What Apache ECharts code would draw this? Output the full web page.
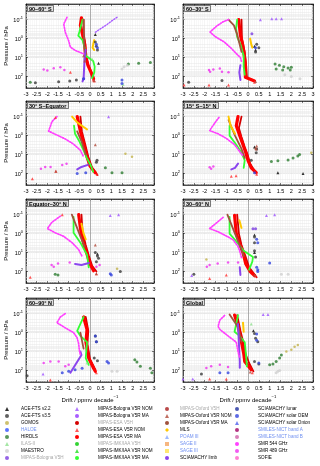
<!DOCTYPE html>
<html>
<head>
<meta charset="UTF-8">
<script src="https://cdn.jsdelivr.net/npm/echarts@6/dist/echarts.min.js"></script>
<style>
html, body { margin: 0; padding: 0; background: #fff; }
#main { width: 320px; height: 466px; }
</style>
</head>
<body>
<div id="main"></div>
<script>
var F = 'Liberation Sans, Arial, sans-serif';
var panels = ['90–60° S', '60–30° S', '30° S–Equator', '15° S–15° N', 'Equator–30° N', '30–60° N', '60–90° N', 'Global'];
var pMin = 0.015, pMax = 400;

// every list: one entry per panel, points are [drift (ppmv/decade), pressure (hPa)]
var smr544 = [
  [[-1.08,0.075],[-1.23,0.17],[-1.16,0.46],[-1.0,1.3],[-0.92,2.8],[-0.69,4.2],[-0.3,6.3]],
  [[-0.9,0.1],[-1.15,0.13],[-1.45,0.22],[-1.75,0.45],[-1.5,0.8],[-1.1,1.5],[-0.8,3],[-0.55,6],[-0.35,10],[-0.3,16]],
  [[-1.55,0.1],[-1.78,0.18],[-1.94,0.58],[-1.55,0.93],[-1.16,1.5],[-0.77,2.8],[-0.45,6],[-0.3,13]],
  [[-1.34,0.11],[-1.54,0.22],[-1.77,0.54],[-1.38,0.8],[-1.0,1.4],[-0.62,3],[-0.38,7],[-0.23,12]],
  [[-1.39,0.12],[-1.78,0.25],[-2.0,0.54],[-1.63,0.9],[-1.23,1.4],[-0.84,3],[-0.53,7],[-0.38,15]],
  [[-1.15,0.14],[-1.77,0.54],[-1.38,0.8],[-1.0,1.33],[-0.69,2.1],[-0.46,4.7],[-0.38,8.4],[-0.3,18]],
  [[-1.16,0.1],[-1.39,0.15],[-1.55,0.3],[-1.16,0.56],[-0.77,1],[-0.61,1.8],[-0.53,3.9],[-0.5,8.5],[-0.45,15]],
  [[-1.08,0.125],[-1.3,0.22],[-1.38,0.47],[-1.3,0.68],[-0.92,1.5],[-0.54,3.2],[-0.46,10],[-0.38,22]]
];
var smr489 = [
  [[-2.17,43],[-2.0,48],[-1.7,36],[-1.39,32],[-1.2,45]],
  [[-1.8,45],[-1.6,42],[-1.3,38],[-1.75,55],[-1.2,55],[-0.9,60]],
  [[-1.1,30],[-1.3,35],[-1.85,45],[-2.1,45],[-2.3,55]],
  [[-1.77,46],[-1.6,42],[-1.7,55]],
  [[-1.8,45],[-1.7,55],[-1.5,38],[-0.95,33],[0.45,45],[0.3,55]],
  [[-1.77,45],[-1.4,38],[-0.92,33],[-0.46,33],[-1.9,55]],
  [[-2.17,40],[-1.86,33],[-1.47,33],[-1.16,60],[-1.0,50]],
  [[-1.92,73],[-1.7,60],[-1.3,50],[-0.92,65]]
];
var esaMA = [
  [[-0.4,0.08],[-0.45,0.2],[-0.35,0.6],[-0.25,2],[-0.2,8],[-0.1,25],[0.05,60],[0.17,130]],
  [[-0.43,0.1],[-0.35,0.65],[-0.25,2],[-0.2,4.6],[-0.12,22],[-0.12,110],[0.3,170]],
  [[-0.6,0.1],[-0.45,0.58],[-0.3,2.7],[-0.14,13],[0,40],[0.25,90]],
  [[-0.46,0.1],[-0.54,0.3],[-0.38,1],[-0.23,3],[-0.1,8],[0,20],[0.15,50],[0.38,90]],
  [[-0.53,0.1],[-0.45,0.5],[-0.38,1.4],[-0.25,5],[-0.14,12],[0,40],[0.17,90]],
  [[-0.62,0.11],[-0.54,1],[-0.4,3],[-0.23,10],[-0.1,40],[0.1,100],[0.3,160]],
  [[-0.3,0.15],[-0.14,0.7],[-0.19,3.2],[-0.06,22],[0.17,75],[0.25,110]],
  [[-0.62,0.12],[-0.45,0.5],[-0.3,3.2],[-0.2,12],[-0.15,33],[0.15,90]]
];
var esaH = [
  [[-0.3,0.1],[-0.3,0.5],[-0.22,2],[-0.18,10],[-0.05,30],[0.15,100]],
  [[-0.3,0.1],[-0.28,1],[-0.15,5],[-0.08,30],[-0.05,100]],
  [[-0.45,0.1],[-0.38,0.6],[-0.22,3],[-0.08,13],[0.1,50],[0.35,120]],
  [[-0.3,0.1],[-0.42,0.4],[-0.3,1.2],[-0.15,4],[-0.02,10],[0.1,30],[0.3,70]],
  [[-0.4,0.1],[-0.35,0.8],[-0.2,4],[-0.05,15],[0.1,50],[0.3,100]],
  [[-0.5,0.1],[-0.42,1],[-0.3,4],[-0.12,15],[0.05,60],[0.4,200]],
  [[-0.2,0.15],[-0.08,0.8],[-0.12,4],[0,25],[0.25,90]],
  [[-0.5,0.12],[-0.35,0.8],[-0.2,4],[-0.1,15],[0.05,40],[0.25,110]]
];
var esaNOM = [
  [[0.15,150],[0.2,170],[-0.92,60]],
  [[-2.95,280],[-1.8,280],[-0.9,280],[0.3,200]],
  [[-2.7,190],[-1.6,75],[0.33,110],[-1.62,0.11]],
  [[-0.77,140],[-0.55,130],[0.4,110]],
  [[-1.3,0.1],[-2.8,200],[0.3,130]],
  [[-1.77,230],[-1.0,150],[0.35,170]],
  [[-1.86,310],[0.3,130]],
  [[-1.77,280],[-1.0,280],[0.2,130]]
];
var imkMA = [
  [[-0.35,0.1],[-0.5,0.45],[-0.55,0.7],[-0.35,1.2],[-0.25,3],[-0.2,8],[0.15,15],[0.22,30],[0.2,60],[0.1,120]],
  [[-0.5,0.1],[-0.55,0.3],[-0.5,0.8],[-0.35,2],[-0.2,8],[-0.2,30],[-0.15,80]],
  [[-0.75,0.3],[-0.7,0.8],[-0.5,2],[-0.3,6],[-0.15,15],[0.05,40],[0.15,80]],
  [[-0.85,0.3],[-0.85,1],[-0.54,3],[-0.3,8],[-0.15,20],[-0.2,50]],
  [[-0.77,0.13],[-0.77,0.9],[-0.45,3],[-0.14,13],[-0.06,60]],
  [[-0.85,0.13],[-0.85,1],[-0.55,2.5],[-0.2,8],[0.23,17],[0.2,30],[0.05,80]],
  [[-0.3,0.15],[-0.6,0.8],[-0.45,1.5],[-0.14,3.2],[-0.2,22],[-0.06,50]],
  [[-0.46,0.12],[-0.62,0.9],[-0.38,1.5],[-0.15,3.2],[-0.08,22],[-0.05,60]]
];
var oxfMA = [
  [[-0.3,0.1],[-0.28,1],[-0.25,5],[-0.25,15]],
  [[-0.9,0.1],[-0.65,0.2],[-0.5,0.6],[-0.3,5]],
  [[-0.6,0.6],[-0.4,2],[-0.2,10]],
  [[-0.9,0.15],[-0.6,1],[-0.3,5],[-0.15,15]],
  [[-0.85,0.1],[-0.45,1.4],[-0.25,5]],
  [[-0.95,0.1],[-0.6,1],[-0.35,5],[-0.2,15]],
  [[-0.45,1],[-0.3,7]],
  [[-0.85,0.11],[-0.46,0.5],[-0.3,3]]
];
var oxfNOM = [
  [[-0.3,8],[-0.25,15],[0.2,160]],
  [[0.35,180]],
  [[0.25,3],[-1.6,75]],
  [[0.38,5],[0.35,4.5],[0.4,3.5]],
  [[0.25,4],[0.3,130]],
  [[0.3,150]],
  [],
  [[0.1,120]]
];
var bolMA = [
  [[0.25,0.46],[0.5,0.3],[0.8,0.18],[1.05,0.11],[1.27,0.075]],
  [], [], [], [], [], [], []
];
var bolNOM = [
  [],
  [[0.57,0.1],[1.1,0.09],[1.3,0.09],[1.55,0.09]],
  [[0.87,0.1]],
  [],
  [[1.34,0.1],[0.95,0.11]],
  [[0.85,0.11],[1.23,0.1],[-2.6,160]],
  [[-2.2,150]],
  [[0.7,0.11],[0.92,0.11],[-3.0,280],[-2.55,280]]
];
var bolH = [
  [[-0.3,130]], [[0.18,0.55]], [], [], [], [[0.23,0.55],[0.35,0.55]], [], []
];
var sciaLimb = [
  [[-0.2,4],[-0.25,10],[-0.3,130],[-0.35,180]],
  [[-0.35,25],[-0.4,60],[-0.35,150]],
  [[-0.6,60],[-0.4,45],[-0.1,35]],
  [[-0.46,30],[-0.6,50],[-0.77,60]],
  [[-0.7,40],[-0.4,45],[-0.05,35]],
  [[-0.38,60],[-0.35,150]],
  [[-0.45,10],[-0.4,15],[-0.92,130]],
  [[-0.46,0.35],[-0.38,33],[-0.38,70]]
];
var mls = [
  [[0.2,1.2],[0.15,2],[0.12,3],[0.2,4]],
  [[0.1,1],[0.15,2],[0.2,3]],
  [[-0.84,0.1],[-0.6,0.2],[-0.3,0.35],[-0.14,0.47]],
  [[-0.9,0.1],[-0.8,0.3],[-0.6,0.8]],
  [[-0.4,0.3],[-0.3,1],[-0.2,2]],
  [[-0.4,0.2],[-0.3,0.5]],
  [],
  [[-0.23,0.3],[-0.2,0.9]]
];
var aceV35 = [
  [[0.25,1.5],[0.3,2.5],[0.35,4],[-2.56,210],[-1.47,190],[-0.95,170],[-0.64,150]],
  [[0.4,2],[0.5,3],[0.35,5],[-2.74,200],[-1.2,160]],
  [[0.33,20],[0.3,25]],
  [[0.4,5],[0.38,8],[0.15,20]],
  [[0.25,10],[0.35,15],[0.4,20],[0.3,30],[1.42,100]],
  [[0.3,1.5],[0.3,3],[0.3,8],[0.35,17],[-2.5,140]],
  [[0.25,1.5],[0.3,3],[0.2,22],[0.35,30],[-2.95,190]],
  [[0.3,1.1],[0.35,2],[0.45,3],[0.3,33],[0.5,45],[-2.15,150]]
];
var aceV22 = [
  [[0.25,0.6],[0.4,20]],
  [[0.3,2.5],[0.35,4]],
  [],
  [[1.38,90],[2.54,100],[0.3,4]],
  [[0.35,12]],
  [[0.3,1.2],[0.3,10]],
  [],
  [[0.25,0.8]]
];
var sciaOEM = [
  [[0.3,2],[0.35,3],[-0.3,130],[1.5,150],[1.5,230]],
  [[0.35,3]],
  [[-0.6,100],[-0.2,90]],
  [[0.3,90]],
  [[0.95,130],[1.0,150]],
  [[0.4,2],[0.45,3],[0.4,60],[0.45,80],[0.45,100],[1.0,35]],
  [[0.25,1.5],[0.3,3],[0.8,33],[0.87,40],[-0.37,75],[-0.7,90],[-1.0,110],[-1.3,130]],
  [[0.4,1.2],[0.4,2.5],[0.5,40],[-1.3,130],[-0.92,130]]
];
var hirdls = [
  [[-2.8,200],[1.8,22],[2.28,20],[2.83,18]],
  [[1.25,22],[1.45,25],[1.65,30],[1.85,35],[2.0,32],[1.3,40],[1.6,45],[1.95,45]],
  [[1.03,90],[1.5,90],[0.72,50]],
  [[1.08,23],[1.38,21],[1.85,19],[2.08,15],[2.3,12],[2.38,10]],
  [[-1.63,140],[-1.5,150]],
  [],
  [[2.1,27],[2.2,35],[2.36,60],[2.83,75],[2.9,130]],
  [[1.0,50],[1.15,45],[1.3,33],[1.46,22],[1.54,15]]
];
var gomos = [
  [], [], [[1.66,9],[1.97,13]], [[2.92,8]], [[1.27,70]], [[-1.92,23]], [], [[1.77,10],[2.0,8],[2.15,5.5],[2.3,4.5]]
];
var maestro = [
  [[1.5,40],[1.6,30],[1.75,25]], [[1.7,80],[2.0,100],[2.4,130]], [], [], [], [[1.54,140],[1.85,140]], [[1.03,110],[1.27,110]], [[1.3,130],[1.38,110],[1.46,100]]
];
var ilas = [
  [[1.55,260],[0.1,12]], [], [], [], [], [], [[-0.14,40]], [[0.15,0.35]]
];
var none = [[], [], [], [], [], [], [], []];

var gray = '#a8a8a8', lblue = '#6f8ff0';
var defs = [
  {name: 'ACE-FTS v2.2', color: '#000000', symbol: 'triangle', data: aceV22},
  {name: 'ACE-FTS v3.5', color: '#3a3a3a', symbol: 'circle', data: aceV35},
  {name: 'GOMOS', color: '#c2b24a', symbol: 'circle', size: 2.5, data: gomos},
  {name: 'HALOE', color: '#3050ff', symbol: 'circle', size: 2.5, data: none, text: lblue},
  {name: 'HIRDLS', color: '#2e7d32', symbol: 'circle', data: hirdls},
  {name: 'ILAS-II', color: '#8fe08f', symbol: 'triangle', data: ilas, text: gray},
  {name: 'MAESTRO', color: '#cfcfcf', symbol: 'circle', data: maestro},
  {name: 'MIPAS-Bologna V5H', color: '#7a3de0', symbol: 'circle', data: bolH, text: gray},
  {name: 'MIPAS-Bologna V5R NOM', color: '#9d52ff', symbol: 'triangle', data: bolNOM},
  {name: 'MIPAS-Bologna V5R MA', color: '#a85cff', symbol: 'circle', line: true, width: 1.4, dash: [1.2, 1.6], data: bolMA},
  {name: 'MIPAS-ESA V5H', color: '#d40000', symbol: 'circle', line: true, width: 1.8, data: esaH, text: gray},
  {name: 'MIPAS-ESA V5R NOM', color: '#ff3030', symbol: 'triangle', data: esaNOM},
  {name: 'MIPAS-ESA V5R MA', color: '#ff0000', symbol: 'circle', line: true, width: 3.2, data: esaMA},
  {name: 'MIPAS-IMK/IAA V5H', color: '#00c800', symbol: 'circle', data: none, text: gray},
  {name: 'MIPAS-IMK/IAA V5R NOM', color: '#20e020', symbol: 'triangle', data: none},
  {name: 'MIPAS-IMK/IAA V5R MA', color: '#33ff33', symbol: 'circle', line: true, width: 1.8, data: imkMA},
  {name: 'MIPAS-Oxford V5H', color: '#a81c1c', symbol: 'circle', data: none, text: gray},
  {name: 'MIPAS-Oxford V5R NOM', color: '#b04a3a', symbol: 'triangle', data: oxfNOM},
  {name: 'MIPAS-Oxford V5R MA', color: '#a0523d', symbol: 'circle', line: true, width: 1.8, data: oxfMA},
  {name: 'MLS', color: '#ffc800', symbol: 'diamond', line: true, width: 2, data: mls},
  {name: 'POAM III', color: '#88aaff', symbol: 'triangle', data: none, text: lblue},
  {name: 'SAGE II', color: '#f4a460', symbol: 'rect', data: none, text: lblue},
  {name: 'SAGE III', color: '#ffe14d', symbol: 'rect', data: none, text: lblue},
  {name: 'SCIAMACHY limb', color: '#8a45ee', symbol: 'circle', line: true, width: 2, data: sciaLimb},
  {name: 'SCIAMACHY lunar', color: '#1f2f9f', symbol: 'circle', size: 2.5, data: none},
  {name: 'SCIAMACHY solar OEM', color: '#3344dd', symbol: 'circle', data: sciaOEM},
  {name: 'SCIAMACHY solar Onion', color: '#5060ee', symbol: 'triangle', data: none},
  {name: 'SMILES-NICT band A', color: '#a00060', symbol: 'circle', size: 2.5, data: none, text: lblue},
  {name: 'SMILES-NICT band B', color: '#d060a8', symbol: 'circle', data: none, text: lblue},
  {name: 'SMR 544 GHz', color: '#ff40ff', symbol: 'circle', line: true, width: 1.7, dash: [1.2, 1.5], data: smr544},
  {name: 'SMR 489 GHz', color: '#ee30ee', symbol: 'circle', size: 2.5, data: smr489},
  {name: 'SOFIE', color: '#ff60c8', symbol: 'circle', data: none}
];

// decorative minor grid positions (2..9 x 10^n)
var minorP = [];
for (var e = -2; e <= 2; e++) {
  for (var k = 2; k <= 9; k++) {
    var v = k * Math.pow(10, e);
    if (v > pMin && v < pMax) minorP.push(v);
  }
}

var rowTop = [4, 101, 199, 298];
var grids = [], xAxes = [], yAxes = [], titles = [], series = [];
var supRich = {
  b: {fontSize: 5.5, color: '#000', fontFamily: F, verticalAlign: 'bottom', lineHeight: 8},
  s: {fontSize: 4, color: '#000', fontFamily: F, verticalAlign: 'top', lineHeight: 5}
};
function powLabel(v) {
  var l = Math.log10(v), e = Math.round(l);
  if (Math.abs(l - e) > 1e-6) return '';
  return '{b|10}{s|' + e + '}';
}

for (var i = 0; i < 8; i++) {
  var right = i % 2 === 1, row = Math.floor(i / 2);
  var gl = right ? 183 : 26, gw = right ? 130 : 128, gt = rowTop[row];
  grids.push({left: gl, top: gt, width: gw, height: 84, show: true, borderColor: '#000', borderWidth: 0.6, backgroundColor: '#fff'});
  titles.push({
    text: panels[i], left: gl + 1, top: gt + 1,
    textStyle: {fontSize: 5.5, fontWeight: 'bold', color: '#000', fontFamily: F},
    backgroundColor: '#e2e2e2', borderColor: '#000', borderWidth: 0.5, padding: [1, 2, 0, 2]
  });
  var xb = {
    gridIndex: i, type: 'value', min: -3, max: 3, interval: 0.5, position: 'bottom',
    axisLine: {show: true, onZero: false, lineStyle: {color: '#000', width: 0.6}},
    axisTick: {show: true, inside: true, length: 2, lineStyle: {color: '#000', width: 0.5}},
    minorTick: {show: true, splitNumber: 5, length: 1, lineStyle: {color: '#000', width: 0.4}},
    splitLine: {show: true, lineStyle: {color: '#d6d6d6', width: 0.5, type: 'dotted'}},
    minorSplitLine: {show: true, lineStyle: {color: '#f0f0f0', width: 0.5}},
    axisLabel: {fontSize: 5.5, color: '#000', margin: 3, fontFamily: F, hideOverlap: false}
  };
  if (row === 3) {
    xb.name = '{b|Drift / ppmv decade}{s|−1}';
    xb.nameLocation = 'middle';
    xb.nameGap = 13;
    xb.nameTextStyle = {rich: {
      b: {fontSize: 6, color: '#000', fontFamily: F, verticalAlign: 'bottom', lineHeight: 8},
      s: {fontSize: 4.2, color: '#000', fontFamily: F, verticalAlign: 'top', lineHeight: 5}
    }};
  }
  xAxes.push(xb);
  var yl = {
    gridIndex: i, type: 'log', logBase: 10, min: pMin, max: pMax, inverse: true, position: 'left',
    axisLine: {show: true, onZero: false, lineStyle: {color: '#000', width: 0.6}},
    axisTick: {show: true, inside: true, length: 2, lineStyle: {color: '#000', width: 0.5}},
    splitLine: {show: true, lineStyle: {color: '#d6d6d6', width: 0.5}},
    axisLabel: {formatter: powLabel, rich: supRich, margin: 3, showMinLabel: false, showMaxLabel: false}
  };
  if (!right) {
    yl.name = 'Pressure / hPa';
    yl.nameLocation = 'middle';
    yl.nameGap = 16;
    yl.nameTextStyle = {fontSize: 6, color: '#000', fontFamily: F};
  }
  yAxes.push(yl);
}
// top / right frame ticks
for (var j = 0; j < 8; j++) {
  xAxes.push({
    gridIndex: j, type: 'value', min: -3, max: 3, interval: 0.5, position: 'top',
    axisLine: {show: true, onZero: false, lineStyle: {color: '#000', width: 0.6}},
    axisTick: {show: true, inside: true, length: 2, lineStyle: {color: '#000', width: 0.5}},
    minorTick: {show: true, splitNumber: 5, length: 1, lineStyle: {color: '#000', width: 0.4}},
    splitLine: {show: false}, axisLabel: {show: false}
  });
  yAxes.push({
    gridIndex: j, type: 'log', logBase: 10, min: pMin, max: pMax, inverse: true, position: 'right',
    axisLine: {show: true, onZero: false, lineStyle: {color: '#000', width: 0.6}},
    axisTick: {show: true, inside: true, length: 2, lineStyle: {color: '#000', width: 0.5}},
    splitLine: {show: false}, axisLabel: {show: false}
  });
  var mlData = minorP.map(function (p) {
    return {yAxis: p, lineStyle: {color: '#e6e6e6', width: 0.5, type: 'solid'}};
  });
  mlData.push({xAxis: 0, lineStyle: {color: '#9a9a9a', width: 0.8, type: 'solid'}});
  series.push({
    type: 'line', name: '_bg' + j, xAxisIndex: j, yAxisIndex: j, data: [], silent: true, z: 1,
    markLine: {silent: true, symbol: 'none', animation: false, z: 1, label: {show: false}, data: mlData}
  });
}

defs.forEach(function (d) {
  for (var i = 0; i < 8; i++) {
    var pts = d.data[i];
    if (i > 0 && !pts.length) continue;
    if (d.line) {
      series.push({
        type: 'line', name: d.name, xAxisIndex: i, yAxisIndex: i, data: pts,
        symbol: d.symbol, showSymbol: false, silent: true, z: 3, legendIcon: d.symbol,
        lineStyle: {color: d.color, width: d.width, type: d.dash || 'solid', cap: 'round', join: 'round'},
        itemStyle: {color: d.color}
      });
    } else {
      series.push({
        type: 'scatter', name: d.name, xAxisIndex: i, yAxisIndex: i, data: pts,
        symbol: d.symbol, symbolSize: d.size || 3, silent: true, z: 4, legendIcon: d.symbol,
        itemStyle: {color: d.color}
      });
    }
  }
});

// legend columns: icon left edge and extra gap before text
var legendCols = [
  {left: 5, pad: 7},
  {left: 75, pad: 14},
  {left: 165, pad: 6},
  {left: 235, pad: 14}
];
var legends = legendCols.map(function (c, ci) {
  return {
    orient: 'vertical', left: c.left, top: 405.5, itemWidth: 4, itemHeight: 4, itemGap: 0,
    selectedMode: false, padding: 0,
    textStyle: {fontSize: 4.6, color: '#000', fontFamily: F, lineHeight: 7, padding: [0, 0, 0, c.pad]},
    data: defs.slice(ci * 8, ci * 8 + 8).map(function (d) {
      return {name: d.name, icon: d.symbol, textStyle: {color: d.text || '#000'}};
    })
  };
});

var chart = echarts.init(document.getElementById('main'), null, {renderer: 'canvas'});
chart.setOption({
  animation: false,
  textStyle: {fontFamily: F},
  title: titles,
  legend: legends,
  grid: grids,
  xAxis: xAxes,
  yAxis: yAxes,
  series: series
});
</script>
</body>
</html>
